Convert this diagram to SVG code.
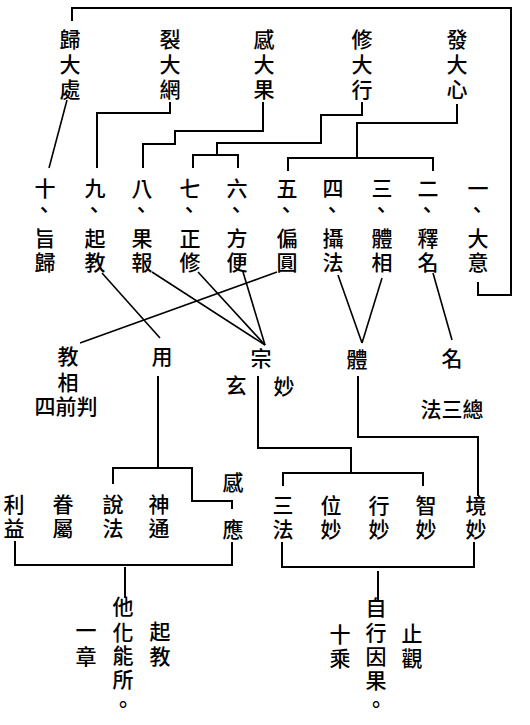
<svg xmlns="http://www.w3.org/2000/svg" width="530" height="725" viewBox="0 0 530 725">
  <style>
    text { font-family: "Noto Sans CJK TC", "Noto Sans CJK SC", sans-serif; font-size: 21px; font-weight: 500; fill: #000; text-anchor: middle; dominant-baseline: central; }
    .ln { fill: none; stroke: #000; stroke-width: 2; stroke-linecap: square; stroke-linejoin: miter; }
    .dg { fill: none; stroke: #000; stroke-width: 1.6; }
  </style>
  <rect width="530" height="725" fill="#fff"/>

  <!-- connectors -->
  <g id="connectors">
    <!-- outer loop from 歸大處 round to 大意 -->
    <path class="ln" d="M72,20 V8 H511 V295 H478 V283"/>
    <path class="dg" d="M67,100 L49,168"/>
    <path class="ln" d="M170,103 V113 H97 V167"/>
    <path class="ln" d="M263,103 V131 H175 V144 H143 V167"/>
    <path class="ln" d="M362,103 V115 H321 V143 H217 V155"/>
    <path class="ln" d="M193,167 V155 H238 V167"/>
    <path class="ln" d="M457,105 V123 H357 V158"/>
    <path class="ln" d="M288,170 V158 H433 V170"/>

    <!-- ten chapters to the five headings -->
    <path class="dg" d="M102,273 L160,338"/>
    <path class="dg" d="M152,272 L265,345"/>
    <path class="dg" d="M198,272 L265,345"/>
    <path class="dg" d="M243,272 L265,345"/>
    <path class="dg" d="M277,272 L80,343"/>
    <path class="dg" d="M338,275 L362,343"/>
    <path class="dg" d="M382,278 L362,343"/>
    <path class="dg" d="M433,273 L452,340"/>

    <!-- 用 branch -->
    <path class="ln" d="M158,377 V468"/>
    <path class="ln" d="M113,483 V468 H192 V501 H232 V508"/>
    <path class="ln" d="M15,542 V565 H232 V543"/>
    <path class="ln" d="M125,568 V597"/>

    <!-- 宗 and 體 branches -->
    <path class="ln" d="M258,377 V448 H351 V473"/>
    <path class="ln" d="M283,485 V473 H423 V485"/>
    <path class="ln" d="M358,377 V437 H478 V495"/>
    <path class="ln" d="M282,543 V567 H474 V543"/>
    <path class="ln" d="M378,572 V600"/>
  </g>

  <!-- five great headings -->
  <g id="n-guidachu"><text x="70" y="38">歸</text><text x="70" y="63">大</text><text x="70" y="88">處</text></g>
  <g id="n-liedawang"><text x="170" y="38">裂</text><text x="170" y="63">大</text><text x="170" y="88">網</text></g>
  <g id="n-gandaguo"><text x="264" y="38">感</text><text x="264" y="63">大</text><text x="264" y="88">果</text></g>
  <g id="n-xiudaxing"><text x="362" y="38">修</text><text x="362" y="63">大</text><text x="362" y="88">行</text></g>
  <g id="n-fadaxin"><text x="457" y="38">發</text><text x="457" y="63">大</text><text x="457" y="88">心</text></g>

  <!-- ten chapters -->
  <g id="n-10"><text x="45" y="187">十</text><text x="44" y="208">、</text><text x="45" y="237">旨</text><text x="45" y="261">歸</text></g>
  <g id="n-9"><text x="95" y="187">九</text><text x="94" y="208">、</text><text x="95" y="237">起</text><text x="95" y="261">教</text></g>
  <g id="n-8"><text x="142" y="187">八</text><text x="141" y="208">、</text><text x="142" y="237">果</text><text x="142" y="261">報</text></g>
  <g id="n-7"><text x="190" y="187">七</text><text x="189" y="208">、</text><text x="190" y="237">正</text><text x="190" y="261">修</text></g>
  <g id="n-6"><text x="237" y="187">六</text><text x="236" y="208">、</text><text x="237" y="237">方</text><text x="237" y="261">便</text></g>
  <g id="n-5"><text x="287" y="187">五</text><text x="286" y="208">、</text><text x="287" y="237">偏</text><text x="287" y="261">圓</text></g>
  <g id="n-4"><text x="333" y="187">四</text><text x="332" y="208">、</text><text x="333" y="237">攝</text><text x="333" y="261">法</text></g>
  <g id="n-3"><text x="382" y="187">三</text><text x="381" y="208">、</text><text x="382" y="237">體</text><text x="382" y="261">相</text></g>
  <g id="n-2"><text x="428" y="187">二</text><text x="427" y="208">、</text><text x="428" y="237">釋</text><text x="428" y="261">名</text></g>
  <g id="n-1"><text x="478" y="187">一</text><text x="477" y="208">、</text><text x="478" y="237">大</text><text x="478" y="261">意</text></g>

  <!-- five headings -->
  <g id="n-jiaoxiang"><text x="68" y="355">教</text><text x="68" y="381">相</text><text x="66" y="405">四前判</text></g>
  <g id="n-yong"><text x="162" y="355">用</text></g>
  <g id="n-zong"><text x="261" y="357">宗</text><text x="236" y="384">玄</text><text x="284" y="385">妙</text></g>
  <g id="n-ti"><text x="357" y="358">體</text></g>
  <g id="n-ming"><text x="452" y="357">名</text><text x="452" y="408">法三總</text></g>

  <!-- functions -->
  <g id="n-liyi"><text x="14" y="503">利</text><text x="14" y="527">益</text></g>
  <g id="n-juanshu"><text x="63" y="503">眷</text><text x="63" y="527">屬</text></g>
  <g id="n-shuofa"><text x="113" y="503">說</text><text x="113" y="527">法</text></g>
  <g id="n-shentong"><text x="159" y="503">神</text><text x="159" y="527">通</text></g>
  <g id="n-ganying"><text x="233" y="481">感</text><text x="233" y="528">應</text></g>

  <!-- marvels -->
  <g id="n-sanfa"><text x="283" y="504">三</text><text x="283" y="528">法</text></g>
  <g id="n-weimiao"><text x="331" y="504">位</text><text x="331" y="528">妙</text></g>
  <g id="n-xingmiao"><text x="379" y="504">行</text><text x="379" y="528">妙</text></g>
  <g id="n-zhimiao"><text x="426" y="504">智</text><text x="426" y="528">妙</text></g>
  <g id="n-jingmiao"><text x="476" y="504">境</text><text x="476" y="528">妙</text></g>

  <!-- summaries -->
  <g id="n-tahua">
    <text x="123" y="605">他</text><text x="123" y="631">化</text><text x="123" y="654">能</text><text x="123" y="678">所</text><text x="123" y="703">。</text>
    <text x="86" y="629">一</text><text x="86" y="655">章</text>
    <text x="160" y="630">起</text><text x="160" y="655">教</text>
  </g>
  <g id="n-zixing">
    <text x="376" y="606">自</text><text x="376" y="631">行</text><text x="376" y="655">因</text><text x="376" y="679">果</text><text x="376" y="703">。</text>
    <text x="340" y="633">十</text><text x="340" y="657">乘</text>
    <text x="412" y="632">止</text><text x="412" y="657">觀</text>
  </g>
</svg>
